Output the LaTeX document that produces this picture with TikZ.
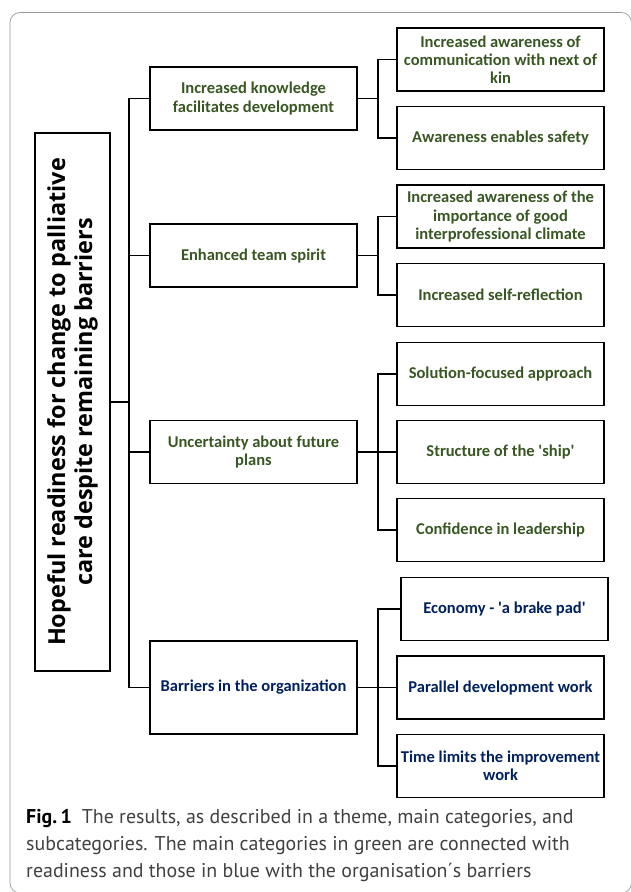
\documentclass[tikz,border=0pt]{standalone}
\usepackage{fontspec}
\setmainfont{Carlito}
\newfontfamily\themefont{Open Sans}
\newfontfamily\capfont{PT Sans}
\definecolor{readygreen}{RGB}{56,87,35}
\definecolor{barrierblue}{RGB}{0,32,96}
\definecolor{capgray}{RGB}{64,64,64}
\tikzset{
    box/.style={draw=black, line width=1.5pt, minimum width=6.21cm, minimum height=1.89cm,
        align=center, inner sep=1pt, font=\fontsize{14.1}{15.4}\selectfont\bfseries},
    ready/.style={text=readygreen},
    barrier/.style={text=barrierblue},
    link/.style={line width=1.5pt}
}
\begin{document}
\begin{tikzpicture}[x=0.03cm, y=-0.03cm]
    \useasboundingbox (0,0) rectangle (630,892);
    % frame
    \draw[gray!80, line width=0.6pt, rounded corners=0.3cm] (10,12.5) rectangle (631.5,893);
    % theme
    \node[draw, line width=1.5pt, rotate=90, minimum width=16.14cm, minimum height=2.25cm, align=center,
        inner sep=0pt, font=\themefont\fontsize{20}{23}\selectfont\bfseries] (theme) at (72.5,402)
        {Hopeful readiness for change to palliative\\care despite remaining barriers};
    % main categories
    \node[box, ready] (know) at (253.5,98.5) {Increased knowledge\\facilitates development};
    \node[box, ready] (team) at (253.5,255.5) {Enhanced team spirit};
    \node[box, ready] (plans) at (253.5,452) {Uncertainty about future\\plans};
    \node[box, barrier, minimum height=2.79cm] (organ) at (253.5,687.5) {Barriers in the organization};
    % subcategories
    \node[box, ready] (kin) at (500.5,59.5) {Increased awareness of\\communication with next of\\kin};
    \node[box, ready] (safety) at (500.5,138) {Awareness enables safety};
    \node[box, ready] (climate) at (500.5,216.5) {Increased awareness of the\\importance of good\\interprofessional climate};
    \node[box, ready] (reflect) at (500.5,295) {Increased self-reflection};
    \node[box, ready] (solution) at (500.5,374) {Solution-focused approach};
    \node[box, ready] (ship) at (500.5,452) {Structure of the \textquotesingle ship\textquotesingle};
    \node[box, ready] (leader) at (500.5,530) {Confidence in leadership};
    \node[box, barrier] (economy) at (504.5,609) {Economy - \textquotesingle a brake pad\textquotesingle};
    \node[box, barrier] (parallel) at (500.5,687.5) {Parallel development work};
    \node[box, barrier] (time) at (500.5,766) {Time limits the improvement\\work};
    % connectors
    \coordinate (trunk) at (129,402);
    \draw[link] (theme.south) -- (trunk);
    \foreach \m in {know,team,plans,organ}
        \draw[link] (\m.west) -| (trunk);
    \foreach \m/\s in {know/kin,know/safety,team/climate,team/reflect,plans/solution,plans/ship,
        plans/leader,organ/economy,organ/parallel,organ/time}
        \draw[link] (\m.east) -- ++(20,0) |- (\s.west);
    % caption
    \node[anchor=north west, inner sep=0pt, align=left, text=capgray,
        font=\capfont\fontsize{17}{23}\selectfont] (caption) at (26,809)
        {\textbf{\color{black}Fig.\,1}\enspace The results, as described in a theme, main categories, and\\
        subcategories. The main categories in green are connected with\\
        readiness and those in blue with the organisation´s barriers};
\end{tikzpicture}
\end{document}
